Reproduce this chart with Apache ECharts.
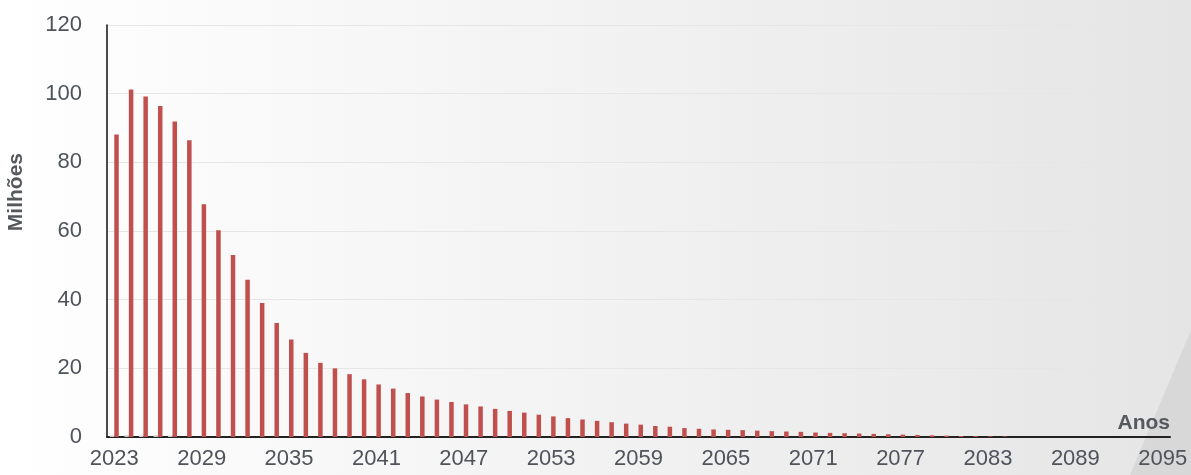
<!DOCTYPE html>
<html>
<head>
<meta charset="utf-8">
<script src="https://cdn.jsdelivr.net/npm/echarts@6/dist/echarts.min.js"></script>
<style>
  html, body { margin: 0; padding: 0; background: #fff; }
  #main { width: 1191px; height: 475px; }
</style>
</head>
<body>
<div id="main"></div>
<script>
// categories (anos)
var years = [
  '2023', '2024', '2025', '2026', '2027', '2028', '2029', '2030', '2031', '2032',
  '2033', '2034', '2035', '2036', '2037', '2038', '2039', '2040', '2041', '2042',
  '2043', '2044', '2045', '2046', '2047', '2048', '2049', '2050', '2051', '2052',
  '2053', '2054', '2055', '2056', '2057', '2058', '2059', '2060', '2061', '2062',
  '2063', '2064', '2065', '2066', '2067', '2068', '2069', '2070', '2071', '2072',
  '2073', '2074', '2075', '2076', '2077', '2078', '2079', '2080', '2081', '2082',
  '2083', '2084', '2085', '2086', '2087', '2088', '2089', '2090', '2091', '2092',
  '2093', '2094', '2095'
]
// red series (milhões)
var mainValues = [
  88.1, 101.2, 99.2, 96.4, 91.9, 86.4, 67.8, 60.2, 53.0, 45.8,
  39.0, 33.2, 28.4, 24.5, 21.6, 20.0, 18.3, 16.8, 15.3, 14.1,
  12.8, 11.8, 10.9, 10.2, 9.5, 8.9, 8.2, 7.6, 7.1, 6.5,
  6.0, 5.5, 5.1, 4.7, 4.3, 3.9, 3.6, 3.2, 3.0, 2.6,
  2.4, 2.2, 2.1, 2.0, 1.85, 1.7, 1.6, 1.5, 1.3, 1.2,
  1.1, 1.0, 0.9, 0.8, 0.7, 0.6, 0.5, 0.4, 0.3, 0.25,
  0.2, 0.15, 0, 0, 0, 0, 0, 0, 0, 0,
  0, 0, 0
]
// small grey series, only visible in the first years
var greyValues = [
  0.4, 0.5, 0.4, 0.5, 0.4, 0, 0, 0, 0, 0,
  0, 0, 0, 0, 0, 0, 0, 0, 0, 0,
  0, 0, 0, 0, 0, 0, 0, 0, 0, 0,
  0, 0, 0, 0, 0, 0, 0, 0, 0, 0,
  0, 0, 0, 0, 0, 0, 0, 0, 0, 0,
  0, 0, 0, 0, 0, 0, 0, 0, 0, 0,
  0, 0, 0, 0, 0, 0, 0, 0, 0, 0,
  0, 0, 0
]

var labelColor = '#4f535a'
var font = 'Liberation Sans, Arial, sans-serif'

var myChart = echarts.init(document.getElementById('main'))
var option = {
  animation: false,
  graphic: [
    {
      type: 'rect',
      z: -100,
      silent: true,
      shape: { x: 0, y: 0, width: 1191, height: 475 },
      style: {
        fill: {
          type: 'linear', x: 0, y: 0, x2: 1, y2: 0,
          colorStops: [
            { offset: 0, color: '#ffffff' },
            { offset: 0.35, color: '#f6f6f7' },
            { offset: 1, color: '#e5e5e6' }
          ]
        }
      }
    },
    {
      type: 'polygon',
      z: -99,
      silent: true,
      shape: { points: [[1191, 330], [1191, 475], [1130, 475]] },
      style: { fill: '#d8d8d9' }
    },
    {
      type: 'text',
      left: 6,
      top: 153,
      rotation: Math.PI / 2,
      style: {
        text: 'Milhões',
        font: 'bold 21px ' + font,
        fill: '#55585d'
      }
    }
  ],
  grid: {
    left: 107,
    right: 21,
    top: 25,
    bottom: 38,
    containLabel: false
  },
  xAxis: {
    type: 'category',
    data: years,
    name: 'Anos',
    nameLocation: 'end',
    nameGap: 0,
    nameTextStyle: {
      align: 'right',
      verticalAlign: 'bottom',
      padding: [0, 0, 3, 0],
      fontFamily: font,
      fontWeight: 'bold',
      fontSize: 21,
      color: '#55585d'
    },
    axisLine: { lineStyle: { color: '#222', width: 2 } },
    axisTick: { show: false },
    axisLabel: {
      interval: 5,
      margin: 11,
      fontFamily: font,
      fontSize: 22,
      color: labelColor
    }
  },
  yAxis: {
    type: 'value',
    min: 0,
    max: 120,
    interval: 20,
    axisLine: { show: true, lineStyle: { color: '#111', width: 1.5 } },
    axisTick: { show: false },
    axisLabel: {
      margin: 25,
      fontFamily: font,
      fontSize: 22,
      color: labelColor
    },
    splitLine: { lineStyle: { color: '#e6e6e6', width: 1 } }
  },
  series: [
    {
      type: 'bar',
      name: 'grey',
      data: greyValues,
      barWidth: 4.5,
      barGap: '0%',
      itemStyle: { color: '#c9c9c9' }
    },
    {
      type: 'bar',
      name: 'Milhões',
      data: mainValues,
      barWidth: 4.5,
      barGap: '0%',
      itemStyle: { color: '#c0504d' }
    }
  ]
}
myChart.setOption(option)
</script>
</body>
</html>
